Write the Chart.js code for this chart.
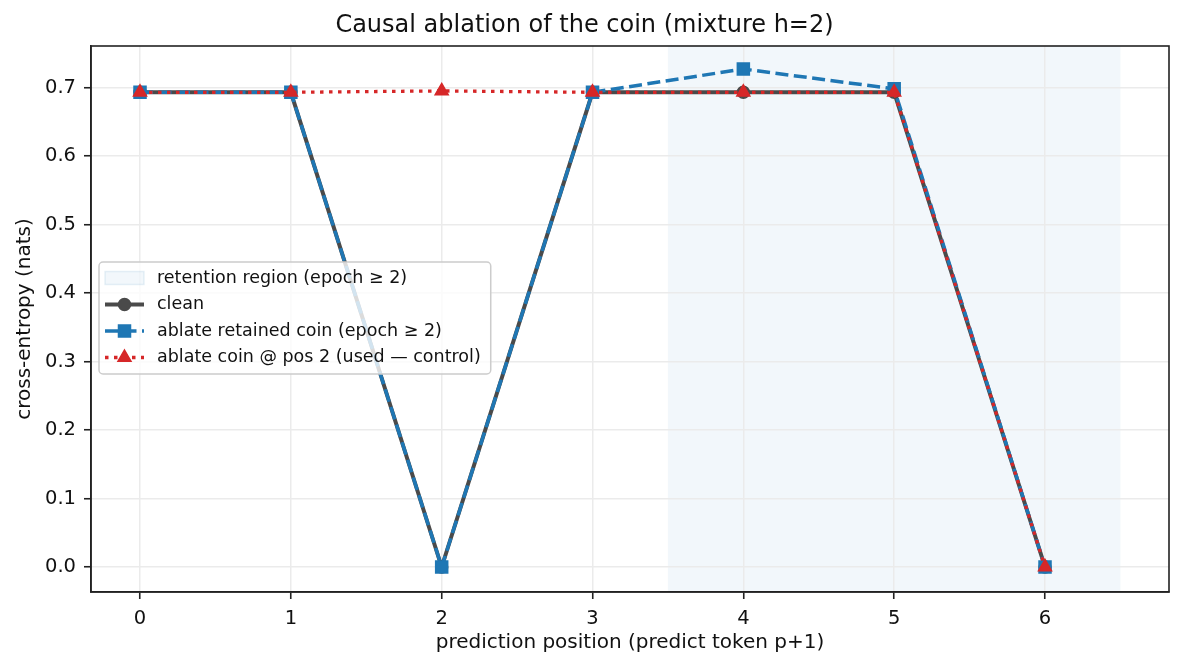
<!DOCTYPE html>
<html><head><meta charset="utf-8">
<script src="https://cdn.jsdelivr.net/npm/chart.js@4/dist/chart.umd.min.js"></script>
<style>html,body{margin:0;padding:0;background:#fff;}#wrap{width:1183px;height:670px;}</style>
</head><body><div id="wrap"><canvas id="c" width="1183" height="670"></canvas></div>
<script>
const positions = [0, 1, 2, 3, 4, 5, 6];
const cleanCE = [0.693, 0.693, 0.0, 0.693, 0.693, 0.693, 0.0];
const retainedCE = [0.693, 0.693, 0.0, 0.693, 0.727, 0.698, 0.0];
const controlCE = [0.693, 0.693, 0.695, 0.693, 0.693, 0.693, 0.0];
const xTicks = [0, 1, 2, 3, 4, 5, 6];
const yTicks = [0, 0.1, 0.2, 0.3, 0.4, 0.5, 0.6, 0.7];
const retentionSpan = [3.5, 6.5];
const xLimits = [-0.325, 6.822];
const yLimits = [-0.0365, 0.7606];
const seriesLabels = ['clean', 'ablate retained coin (epoch \u2265 2)', 'ablate coin @ pos 2 (used \u2014 control)'];
const spanLabel = 'retention region (epoch \u2265 2)';
const titleText = 'Causal ablation of the coin (mixture h=2)';
const xTitle = 'prediction position (predict token p+1)';
const yTitle = 'cross-entropy (nats)';

const FONT = '"DejaVu Sans", "Liberation Sans", sans-serif';
Chart.defaults.font.family = FONT;
Chart.defaults.color = '#111';

const toPts = arr => positions.map((x, i) => ({x: x, y: arr[i]}));
const SPAN_FILL = 'rgba(31,119,180,0.06)';
const SPAN_EDGE = 'rgba(31,119,180,0.10)';

const spanPlugin = {
  id: 'span',
  beforeDraw(chart) {
    const {ctx, chartArea, scales} = chart;
    const x0 = scales.x.getPixelForValue(retentionSpan[0]);
    const x1 = scales.x.getPixelForValue(retentionSpan[1]);
    ctx.save();
    ctx.fillStyle = SPAN_FILL;
    ctx.fillRect(x0, chartArea.top, x1 - x0, chartArea.bottom - chartArea.top);
    ctx.restore();
  }
};

const framePlugin = {
  id: 'frame',
  afterDatasetsDraw(chart) {
    const {ctx, chartArea: a} = chart;
    ctx.save();
    ctx.strokeStyle = '#222';
    ctx.lineWidth = 1.6;
    ctx.strokeRect(a.left, a.top, a.right - a.left, a.bottom - a.top);
    ctx.restore();
  }
};

const legendPlugin = {
  id: 'boxLegend',
  afterDraw(chart) {
    const {ctx} = chart;
    const fontPx = 17.5;
    ctx.save();
    ctx.font = fontPx + 'px ' + FONT;
    const texts = [spanLabel].concat(seriesLabels);
    let maxW = 0;
    texts.forEach(t => { maxW = Math.max(maxW, ctx.measureText(t).width); });
    const left = 99, top = 262, rowH = 26.5, firstRow = 278;
    const hx0 = 105, hx1 = 144, tx = 157;
    const w = tx - left + maxW + 10;
    const h = 112;
    // frame
    ctx.beginPath();
    if (ctx.roundRect) ctx.roundRect(left, top, w, h, 4); else ctx.rect(left, top, w, h);
    ctx.fillStyle = 'rgba(255,255,255,0.8)';
    ctx.fill();
    ctx.strokeStyle = '#cccccc';
    ctx.lineWidth = 1.5;
    ctx.stroke();
    // span handle
    ctx.fillStyle = SPAN_FILL;
    ctx.fillRect(hx0, firstRow - 6.5, hx1 - hx0, 13);
    ctx.strokeStyle = SPAN_EDGE;
    ctx.lineWidth = 1.5;
    ctx.strokeRect(hx0, firstRow - 6.5, hx1 - hx0, 13);
    ctx.fillStyle = '#111';
    ctx.textBaseline = 'middle';
    ctx.textAlign = 'left';
    ctx.fillText(spanLabel, tx, firstRow);
    // series handles (datasets in legend order)
    const dsets = chart.data.datasets;
    dsets.forEach((ds, i) => {
      const y = firstRow + rowH * (i + 1);
      ctx.save();
      ctx.strokeStyle = ds.borderColor;
      ctx.lineWidth = ds.borderWidth;
      ctx.setLineDash(ds.borderDash || []);
      ctx.lineCap = 'butt';
      ctx.beginPath();
      ctx.moveTo(hx0, y);
      ctx.lineTo(hx1, y);
      ctx.stroke();
      ctx.setLineDash([]);
      ctx.fillStyle = ds.pointBackgroundColor;
      ctx.strokeStyle = ds.pointBorderColor;
      ctx.lineWidth = ds.pointBorderWidth;
      Chart.helpers.drawPoint(ctx, {pointStyle: ds.pointStyle, radius: ds.pointRadius, borderWidth: ds.pointBorderWidth, rotation: 0}, (hx0 + hx1) / 2, y);
      ctx.restore();
      ctx.fillStyle = '#111';
      ctx.font = fontPx + 'px ' + FONT;
      ctx.textBaseline = 'middle';
      ctx.fillText(ds.label, tx, y);
    });
    ctx.restore();
  }
};

const gridCommon = {color: '#ebebeb', lineWidth: 1.5, tickColor: '#222', tickLength: 7, tickWidth: 1.6};

new Chart(document.getElementById('c'), {
  type: 'line',
  data: {
    datasets: [
      {label: seriesLabels[0], data: toPts(cleanCE), borderColor: '#4a4a4a', borderWidth: 4,
       pointStyle: 'circle', pointRadius: 6, pointBackgroundColor: '#4a4a4a', pointBorderColor: '#4a4a4a', pointBorderWidth: 1.5, order: 3, tension: 0},
      {label: seriesLabels[1], data: toPts(retainedCE), borderColor: '#1f77b4', borderWidth: 3.5, borderDash: [13, 5.5],
       pointStyle: 'rect', pointRadius: 8.5, pointBackgroundColor: '#1f77b4', pointBorderColor: '#1f77b4', pointBorderWidth: 1.5, order: 2, tension: 0},
      {label: seriesLabels[2], data: toPts(controlCE), borderColor: '#d62728', borderWidth: 3.3, borderDash: [3.5, 5.5],
       pointStyle: 'triangle', pointRadius: 7.5, pointBackgroundColor: '#d62728', pointBorderColor: '#d62728', pointBorderWidth: 1.5, order: 1, tension: 0}
    ]
  },
  options: {
    responsive: false,
    animation: false,
    devicePixelRatio: 1,
    events: [],
    layout: {padding: {left: 0, right: 14, top: 0, bottom: 0}},
    plugins: {
      legend: {display: false},
      tooltip: {enabled: false},
      title: {display: true, text: titleText, font: {size: 24, weight: 'normal', family: FONT}, color: '#111',
              padding: {top: 11.6, bottom: 5.6}}
    },
    scales: {
      x: {
        type: 'linear', min: xLimits[0], max: xLimits[1],
        afterBuildTicks: s => { s.ticks = xTicks.map(v => ({value: v})); },
        afterFit: s => { s.height = 78; },
        ticks: {font: {size: 19.5}, color: '#111', padding: 8, maxRotation: 0, autoSkip: false, callback: v => String(v)},
        grid: gridCommon,
        border: {color: '#222', width: 1.6},
        title: {display: true, text: xTitle, font: {size: 20}, color: '#111', padding: {top: 0, bottom: 15}}
      },
      y: {
        type: 'linear', min: yLimits[0], max: yLimits[1],
        afterBuildTicks: s => { s.ticks = yTicks.map(v => ({value: v})); },
        afterFit: s => { s.width = 91; },
        ticks: {font: {size: 19.5}, color: '#111', padding: 8, callback: v => v.toFixed(1)},
        grid: gridCommon,
        border: {color: '#222', width: 1.6},
        title: {display: true, text: yTitle, font: {size: 20}, color: '#111', padding: {top: 13, bottom: 0}}
      }
    }
  },
  plugins: [spanPlugin, framePlugin, legendPlugin]
});
</script></body></html>
